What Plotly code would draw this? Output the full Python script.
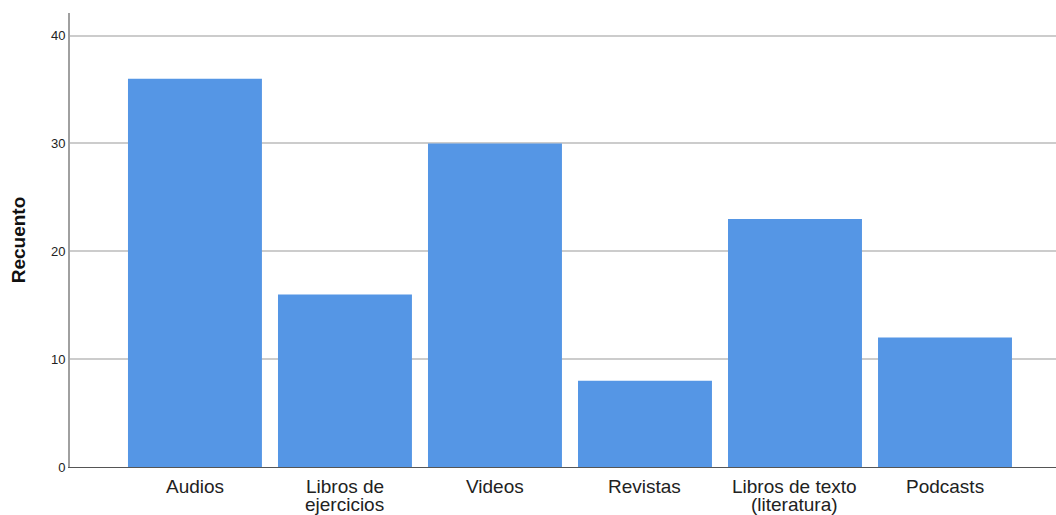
import plotly.graph_objects as go

categorias = ["Audios", "Libros de<br>ejercicios", "Videos", "Revistas",
              "Libros de texto<br>(literatura)", "Podcasts"]
recuento = [36, 16, 30, 8, 23, 12]
ticks_y = [0, 10, 20, 30, 40]

posiciones = list(range(len(categorias)))

fig = go.Figure(go.Bar(
    x=posiciones,
    y=recuento,
    marker=dict(color="#5596e5", line=dict(width=0)),
    width=0.893,
))

# Category labels: each line placed separately for tight line spacing
etiquetas = []
for pos, texto in zip(posiciones, categorias):
    for i, linea in enumerate(texto.split("<br>")):
        etiquetas.append(dict(
            x=pos, y=0, xref="x", yref="y", text=linea, showarrow=False,
            xanchor="center", yanchor="top", yshift=-7 - 18 * i,
            font=dict(family="Liberation Sans, Arial, sans-serif", size=19, color="#222"),
        ))

fig.update_layout(
    width=1056, height=515,
    margin=dict(l=70, r=0, t=13, b=48),
    paper_bgcolor="white", plot_bgcolor="white",
    font=dict(family="Liberation Sans, Arial, sans-serif", color="#222"),
    showlegend=False,
    annotations=etiquetas,
)
fig.update_xaxes(
    tickmode="array", tickvals=posiciones, showticklabels=False,
    range=[-0.833, 5.74], showgrid=False, zeroline=False,
    showline=True, linecolor="#555", linewidth=1, ticks="",
)
fig.update_yaxes(
    range=[0, 42.1], tickvals=ticks_y, showgrid=True, gridcolor="#cccccc", gridwidth=1.5,
    zeroline=False, showline=True, linecolor="#a0a0a0", linewidth=2,
    ticks="", tickfont=dict(size=13, color="#222"),
    title=dict(text="<b>Recuento</b>", font=dict(size=19, color="#111"), standoff=20),
)

fig.write_html("out.html")
